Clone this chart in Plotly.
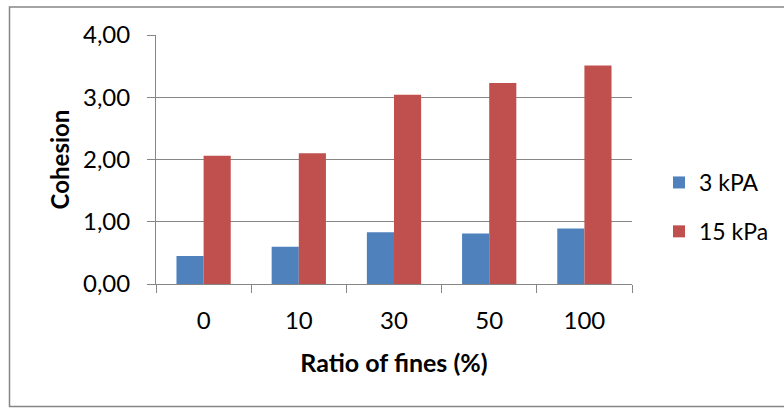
import plotly.graph_objects as go

categories = ["0", "10", "30", "50", "100"]
series_names = ["3 kPA", "15 kPa"]
values_3kpa = [0.45, 0.60, 0.83, 0.81, 0.89]
values_15kpa = [2.06, 2.10, 3.04, 3.23, 3.51]
y_ticks = [0, 1, 2, 3, 4]

FONT = "Lato"
GRID = "#868686"

fig = go.Figure()
fig.add_trace(go.Bar(x=categories, y=values_3kpa, name=series_names[0],
                     marker=dict(color="#4F81BD", line=dict(width=0)),
                     legendgroup="a"))
fig.add_trace(go.Bar(x=categories, y=values_15kpa, name=series_names[1],
                     marker=dict(color="#C0504D", line=dict(width=0)),
                     legendgroup="b"))

W, H = 784, 408
L, R, T, B = 156, 152, 35, 124
pw, ph = W - L - R, H - T - B

def px(x):
    return (x - L) / pw

def py(y):
    return (H - B - y) / ph

fig.update_layout(
    width=W, height=H,
    margin=dict(l=L, r=R, t=T, b=B, autoexpand=False),
    paper_bgcolor="white", plot_bgcolor="white",
    separators=", ",
    barmode="group", bargap=0.43, bargroupgap=0,
    font=dict(family=FONT, size=24, color="black"),
    legend=dict(x=px(659), y=py(161), xanchor="left", yanchor="top",
                font=dict(family=FONT, size=23), tracegroupgap=16,
                itemwidth=30, bgcolor="rgba(0,0,0,0)"),
    xaxis=dict(
        type="category", showline=True, linecolor=GRID, linewidth=1,
        ticks="outside", tickson="boundaries", ticklen=8, tickcolor=GRID,
        showgrid=False, ticklabelstandoff=15, automargin=False,
        title=dict(text="<b>Ratio of fines (%)</b>", standoff=21,
                   font=dict(family=FONT, size=25)),
    ),
    yaxis=dict(
        range=[0, 4], tickvals=y_ticks, tickformat=".2f",
        showline=True, linecolor=GRID, linewidth=1,
        ticks="outside", ticklen=8, tickcolor=GRID,
        showgrid=True, gridcolor=GRID, gridwidth=1, zeroline=False,
        ticklabelstandoff=12, automargin=False,
        title=dict(text="<b>Cohesion</b>", standoff=6,
                   font=dict(family=FONT, size=24)),
    ),
    shapes=[dict(type="rect", xref="paper", yref="paper",
                 x0=px(9.5), x1=px(800), y0=py(406.5), y1=py(7),
                 line=dict(color=GRID, width=1.5), fillcolor="rgba(0,0,0,0)",
                 layer="below")],
)

fig.write_html("out.html", config={"displayModeBar": False},
               post_script="document.body.style.margin='0';document.body.style.overflow='hidden';")
